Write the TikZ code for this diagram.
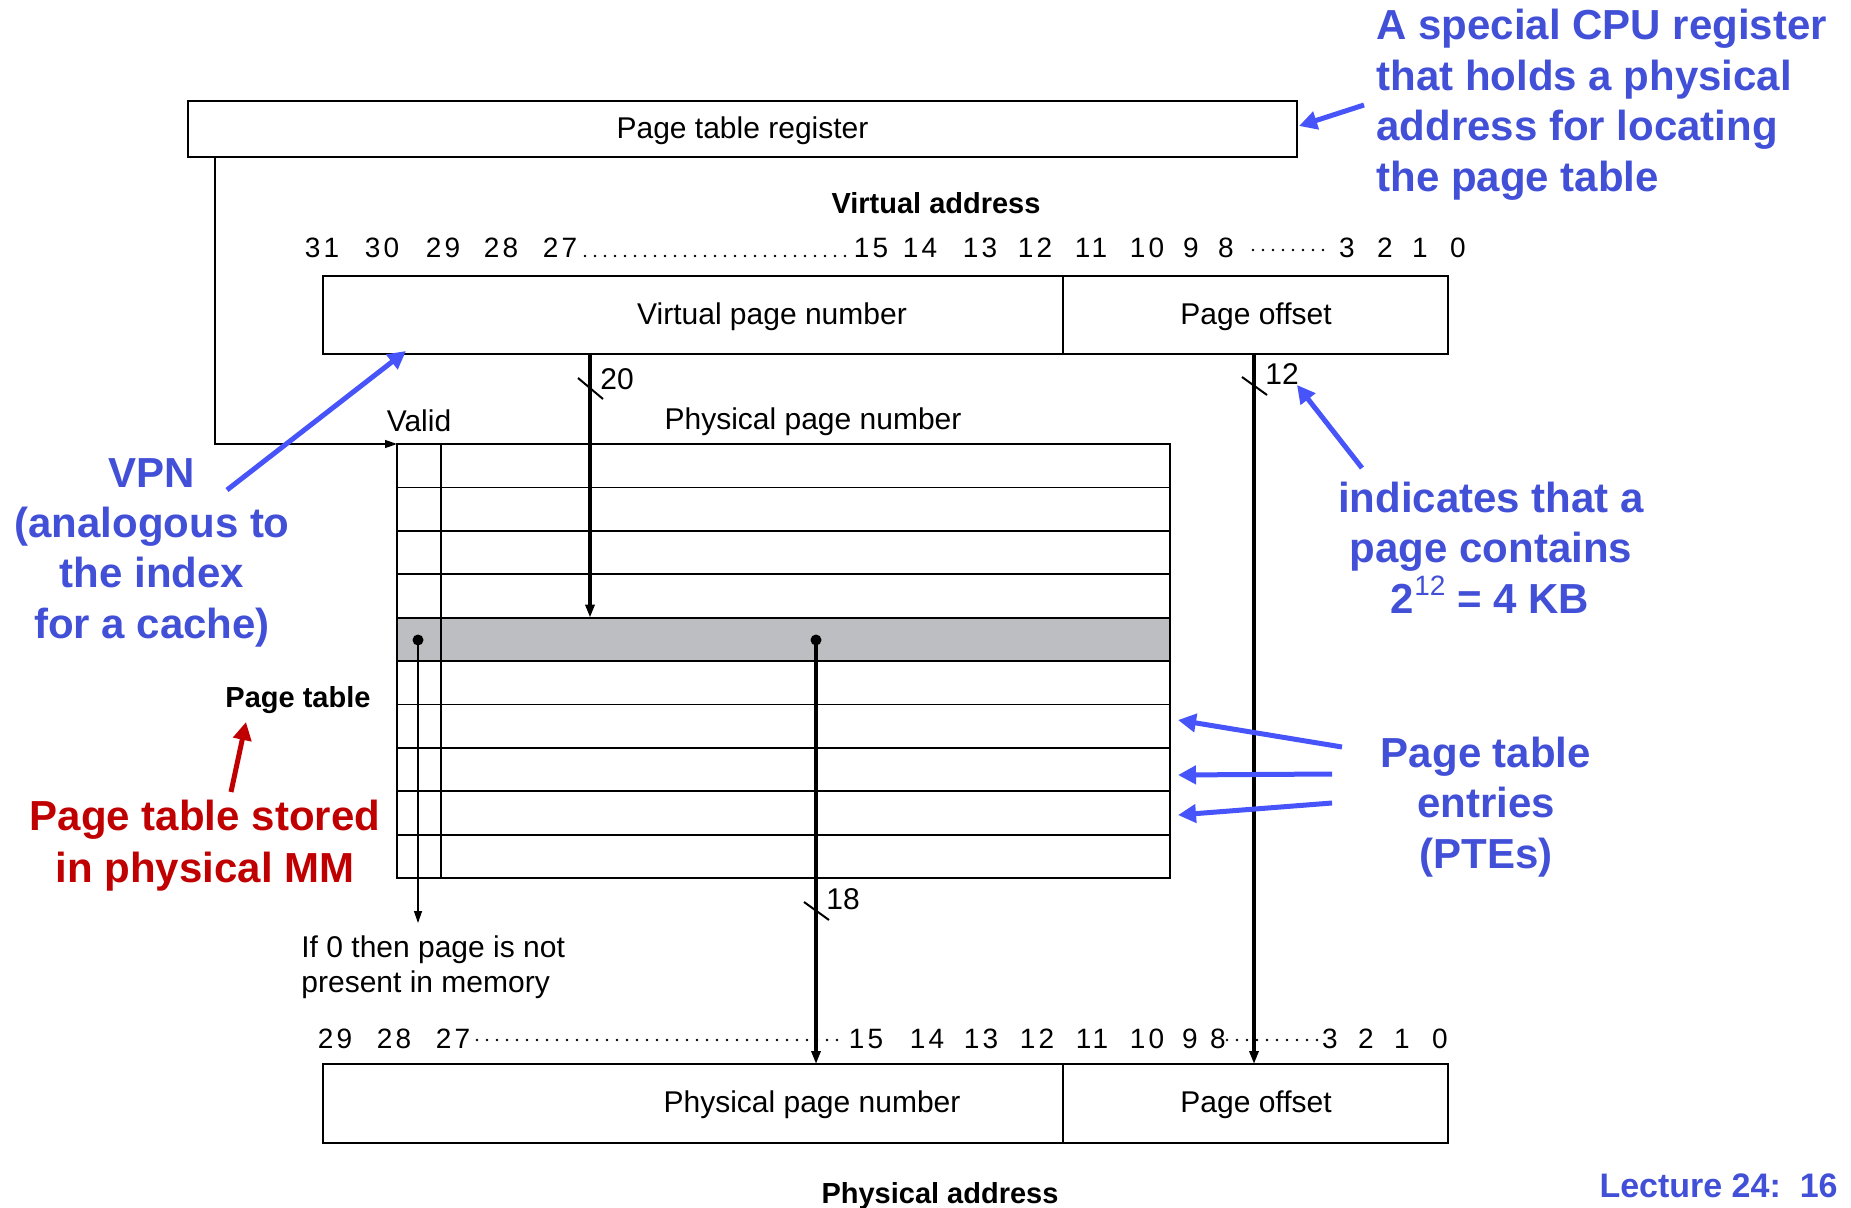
\documentclass[tikz,border=0pt]{standalone}
\usepackage{fontspec}
\setmainfont{Liberation Sans}
\newfontfamily\bitfont[LetterSpace=12]{Liberation Sans}
\usetikzlibrary{arrows.meta}

\definecolor{noteblue}{RGB}{66,80,216}
\definecolor{pointblue}{RGB}{70,84,250}
\definecolor{notered}{RGB}{192,0,0}
\definecolor{rowgray}{RGB}{189,190,193}

\tikzset{
  frame/.style={draw, line width=0.9pt, inner sep=0pt, outer sep=0pt},
  lbl/.style={font=\fontsize{15}{18}\selectfont, inner sep=0pt},
  bitno/.style={font=\bitfont\fontsize{14}{16}\selectfont, inner sep=0pt, anchor=base},
  heading/.style={font=\bfseries\fontsize{14.5}{17}\selectfont, inner sep=0pt},
  note/.style={font=\bfseries\fontsize{21}{25}\selectfont, text=noteblue, inner sep=0pt, anchor=base},
  rednote/.style={note, text=notered},
  bus/.style={line width=1.6pt, -{Triangle[length=6.5pt,width=4.5pt]}},
  wire/.style={line width=0.65pt, -{Triangle[length=6pt,width=4pt]}},
  tick/.style={line width=1pt},
  leader/.style={line width=1.3pt, line cap=round, dash pattern=on 0pt off 5pt},
  pointer/.style={line width=2.5pt, draw=pointblue, -{Triangle[length=9pt,width=9pt]}},
  redpointer/.style={pointer, draw=notered},
}

\begin{document}
\begin{tikzpicture}[x=0.5pt, y=-0.5pt]
\useasboundingbox (0,0) rectangle (1851,1208);

% ---- page table register ----
\node[frame, minimum width=554.5pt, minimum height=28pt] (reg) at (742.5,129) {};
\node[lbl] (reglbl) at (742.5,131) {Page table register};

% ---- virtual address ----
\node[heading] (vahead) at (936,203) {Virtual address};
\foreach \n/\x in {31/322,30/382,29/443,28/501,27/560,15/871,14/920,13/980,12/1035,11/1091,10/1147,9/1191,8/1226,3/1347,2/1385,1/1420,0/1458}
  \node[bitno] (vb\n) at (\x,258) {\n};
\draw[leader] (585,256) -- (850,256);
\draw[leader] (1253,250) -- (1330,250);

\node[frame, minimum width=370pt, minimum height=39pt] (vpn) at (693,315) {};
\node[frame, minimum width=192.5pt, minimum height=39pt] (voff) at (1255.5,315) {};
\node[lbl] (vpnlbl) at (772,317) {Virtual page number};
\node[lbl] (vofflbl) at (1256,317) {Page offset};

% ---- page table ----
\node[lbl] (validlbl) at (419,421) {Valid};
\node[lbl] (ppnhead) at (813,422) {Physical page number};
\fill[rowgray] (397,617.6) rectangle (1170,661);
\node[frame, minimum width=386.5pt, minimum height=217pt] (tbl) at (783.5,661) {};
\foreach \i in {1,...,9}
  \draw[line width=0.9pt] (397,{444+43.4*\i}) -- (1170,{444+43.4*\i});
\draw[line width=0.9pt] (441,444) -- (441,878);
\node[heading] (ptlbl) at (298,700) {Page table};

% ---- physical address ----
\foreach \n/\x in {29/335,28/394,27/453,15/866,14/927,13/981,12/1037,11/1092,10/1147,9/1190,8/1218,3/1330,2/1366,1/1402,0/1440}
  \node[bitno] (pb\n) at (\x,1048) {\n};
\draw[leader] (477,1040) -- (843,1040);
\draw[leader] (1227,1040) -- (1320,1040);

\node[frame, minimum width=370pt, minimum height=39.5pt] (ppn) at (693,1103.5) {};
\node[frame, minimum width=192.5pt, minimum height=39.5pt] (poff) at (1255.5,1103.5) {};
\node[lbl] (ppnlbl) at (812,1105) {Physical page number};
\node[lbl] (pofflbl) at (1256,1105) {Page offset};
\node[heading] (pahead) at (940,1196) {Physical address};

% ---- connection points ----
\coordinate (regtap) at (215,157);
\coordinate (vpnout) at (590,354);
\coordinate (hit) at (590,617.6);
\coordinate (vdot) at (418,640);
\coordinate (pdot) at (816,640);
\coordinate (validend) at (418,923);
\coordinate (offout) at (1254,354);
\coordinate (ppnin) at (816,1064);
\coordinate (poffin) at (1254,1064);

\draw[wire] (regtap) |- (tbl.north west);
\draw[bus] (vpnout) -- (hit);
\draw[bus] (pdot) -- (ppnin);
\draw[bus] (offout) -- (poffin);
\draw[wire] (vdot) -- (validend);
\fill (vdot) circle (2.75pt);
\fill (pdot) circle (2.75pt);

% bus width ticks
\draw[tick] (578,378) -- (603,399);
\draw[tick] (1242,377) -- (1267,395);
\draw[tick] (804,902) -- (829,920);
\node[lbl] (w20) at (617,379) {20};
\node[lbl] (w12) at (1282,374) {12};
\node[lbl] (w18) at (843,899) {18};

\node[lbl, anchor=base west] (absent1) at (301,957) {If 0 then page is not};
\node[lbl, anchor=base west] (absent2) at (301,992) {present in memory};

% ---- annotations ----
\node[note, anchor=base west] (cpu1) at (1376,40) {A special CPU register};
\node[note, anchor=base west] (cpu2) at (1376,91) {that holds a physical};
\node[note, anchor=base west] (cpu3) at (1376,141) {address for locating};
\node[note, anchor=base west] (cpu4) at (1376,192) {the page table};

\node[note] (vpnn1) at (152,487) {VPN};
\node[note] (vpnn2) at (152,537) {(analogous to};
\node[note] (vpnn3) at (152,587) {the index};
\node[note] (vpnn4) at (152,638) {for a cache)};

\node[note] (sz1) at (1491,512) {indicates that a};
\node[note] (sz2) at (1491,562) {page contains};
\node[note] (sz3) at (1490,613) {2\raisebox{0.42em}{\mdseries\fontsize{14}{14}\selectfont 12} = 4 KB};

\node[note] (pte1) at (1486,767) {Page table};
\node[note] (pte2) at (1486,817) {entries};
\node[note] (pte3) at (1486,868) {(PTEs)};

\node[rednote] (mm1) at (205,830) {Page table stored};
\node[rednote] (mm2) at (205,882) {in physical MM};
\node[note, anchor=base east, font=\bfseries\fontsize{17}{20}\selectfont] (lect) at (1838,1197) {Lecture 24:\ \ 16};

\coordinate (cpufrom) at (1364,105);
\coordinate (cputo) at (1299,126);
\coordinate (vpnfrom) at (227,490);
\coordinate (vpnto) at (406,351);
\coordinate (szfrom) at (1362,468);
\coordinate (szto) at (1297,385);
\coordinate (ptefromA) at (1342,747);
\coordinate (ptetoA) at (1178,720);
\coordinate (ptefromB) at (1332,774);
\coordinate (ptetoB) at (1178,775);
\coordinate (ptefromC) at (1332,803);
\coordinate (ptetoC) at (1178,815);
\coordinate (mmfrom) at (231,792);
\coordinate (mmto) at (246,722);

\draw[pointer] (cpufrom) -- (cputo);
\draw[pointer] (vpnfrom) -- (vpnto);
\draw[pointer] (szfrom) -- (szto);
\draw[pointer] (ptefromA) -- (ptetoA);
\draw[pointer] (ptefromB) -- (ptetoB);
\draw[pointer] (ptefromC) -- (ptetoC);
\draw[redpointer] (mmfrom) -- (mmto);
\end{tikzpicture}
\end{document}
